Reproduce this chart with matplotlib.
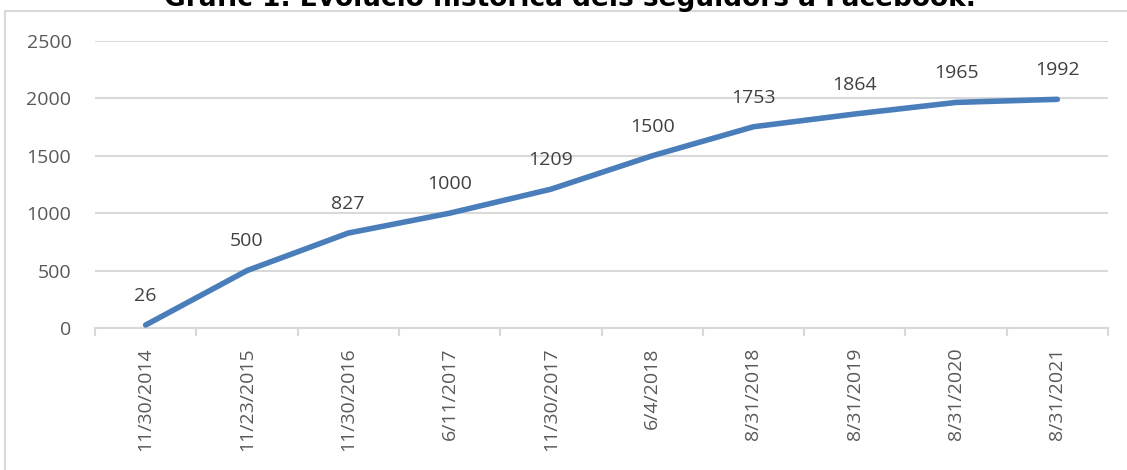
import matplotlib
matplotlib.use('Agg')
import matplotlib.pyplot as plt
from matplotlib.patches import Rectangle
import numpy as np

# dates (x categories) and follower counts
dates = ['11/30/2014', '11/23/2015', '11/30/2016', '6/11/2017', '11/30/2017',
         '6/4/2018', '8/31/2018', '8/31/2019', '8/31/2020', '8/31/2021']
followers = [26, 500, 827, 1000, 1209, 1500, 1753, 1864, 1965, 1992]
y_ticks = [0, 500, 1000, 1500, 2000, 2500]

title = 'Gràfic 1. Evolució històrica dels seguidors a Facebook.'

body_font = ['Open Sans', 'DejaVu Sans']
plt.rcParams['font.family'] = body_font

fig = plt.figure(figsize=(11.27, 4.70), dpi=100)
ax = fig.add_axes([95/1127, 1 - 328/470, (1108 - 95)/1127, (328 - 41)/470])

# chart frame (only top and left edges visible in the crop)
fig.patches.append(Rectangle((5/1127, -0.1), 1.2, 1 - 11/470 + 0.1,
                             transform=fig.transFigure, fill=False,
                             edgecolor='#d9d9d9', linewidth=1.5))

x = np.arange(len(dates))
ax.plot(x, followers, color='#4a7ebb', linewidth=4, solid_capstyle='round',
        solid_joinstyle='round', zorder=3)

for xi, v in zip(x, followers):
    ax.annotate(str(v), (xi, v), xytext=(0, 21), textcoords='offset points',
                ha='center', va='center', fontsize=14, color='#404040',
                family=body_font)

ax.set_xlim(-0.5, len(dates) - 0.5)
ax.set_ylim(0, 2500)
ax.set_yticks(y_ticks)
ax.set_yticklabels([str(t) for t in y_ticks], fontsize=14, color='#595959',
                   family=body_font)
ax.yaxis.grid(True, color='#d9d9d9', linewidth=1.5)
ax.set_axisbelow(True)
ax.tick_params(axis='y', length=0, pad=17)

ax.set_xticks(x)
ax.set_xticklabels(dates, rotation=90, fontsize=14, color='#595959',
                   family=body_font)
ax.tick_params(axis='x', which='major', length=0, pad=14)
ax.set_xticks(np.arange(-0.5, len(dates)), minor=True)
ax.tick_params(axis='x', which='minor', length=6, color='#d9d9d9', width=1.5)

for side in ['top', 'right', 'left']:
    ax.spines[side].set_visible(False)
ax.spines['bottom'].set_color('#d9d9d9')
ax.spines['bottom'].set_linewidth(1.5)

# title sits partly above the top edge, as in the source screenshot
fig.text(570/1127, 1 - 6/470, title, ha='center', va='baseline',
         fontsize=19, fontweight='bold', color='black',
         family=['DejaVu Sans'])

fig.savefig('out.png', dpi=100)
